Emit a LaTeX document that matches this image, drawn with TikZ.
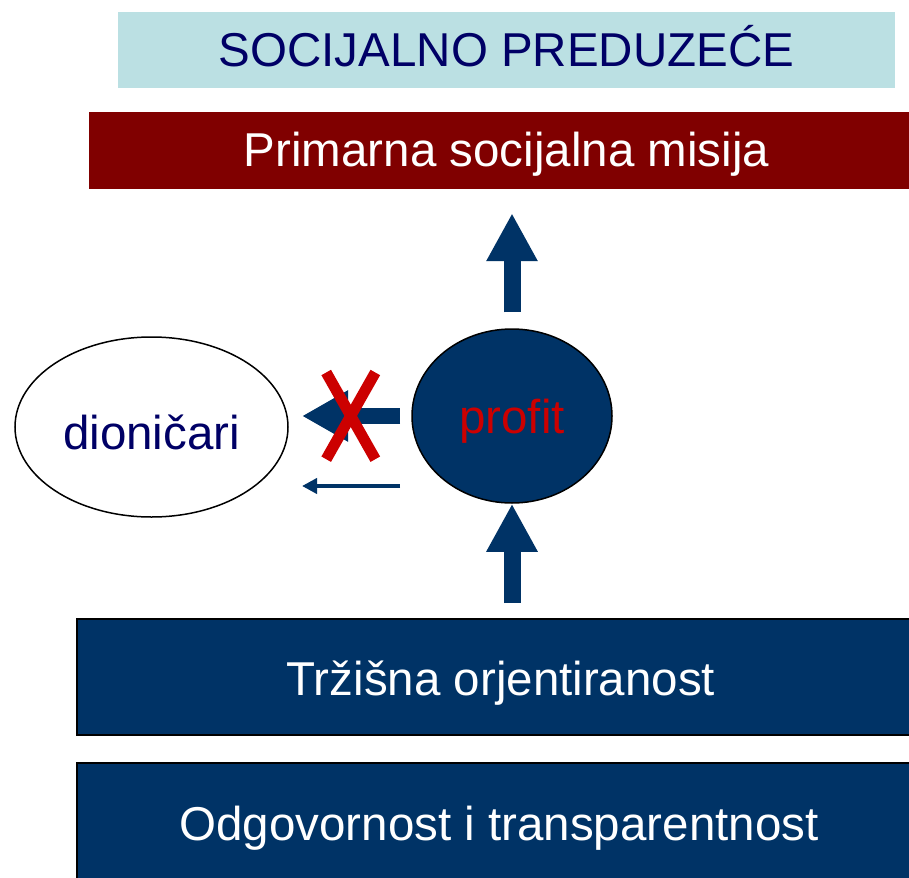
\documentclass[tikz,border=0pt]{standalone}
\usepackage{fontspec}
\setmainfont{Liberation Sans}
\usetikzlibrary{shapes.geometric,arrows.meta,calc}
\definecolor{cyanbox}{RGB}{187,224,227}
\definecolor{navytext}{RGB}{0,0,102}
\definecolor{maroonbox}{RGB}{128,0,0}
\definecolor{darkblue}{RGB}{0,51,102}
\definecolor{xred}{RGB}{204,0,0}
\tikzset{
  bigfont/.style={font=\fontsize{47.5pt}{57pt}\selectfont},
  boxnode/.style={rectangle, inner sep=0pt, bigfont, text depth=0pt},
  ovalnode/.style={ellipse, inner sep=0pt, bigfont, text depth=0pt, draw=black, line width=1.5pt},
  uparrow/.style={darkblue, line width=17pt, -{Triangle[length=48pt,width=48pt]}},
  leftbig/.style={darkblue, line width=16pt, -{Triangle[length=46pt,width=48pt]}},
  leftsmall/.style={darkblue, line width=4pt, -{Triangle[length=15pt,width=15pt]}},
  xstroke/.style={draw=xred, line width=11pt, line cap=butt}
}
\begin{document}
\begin{tikzpicture}[x=1pt,y=-1pt]
\clip (0,0) rectangle (909,877);
\fill[white] (0,0) rectangle (909,877);

\node[boxnode, fill=cyanbox, text=navytext, minimum width=777pt, minimum height=76pt, text height=34pt] (title) at (506.5,50) {SOCIJALNO PREDUZEĆE};
\node[boxnode, fill=maroonbox, text=white, minimum width=835pt, minimum height=77pt, text height=33pt] (mission) at (506.5,150.5) {Primarna socijalna misija};

\node[ovalnode, fill=darkblue, text=xred, minimum width=200pt, minimum height=174pt, text height=34pt] (profit) at (512,416) {profit};
\node[ovalnode, fill=white, text=navytext, minimum width=273pt, minimum height=180pt, text height=44pt] (dion) at (151.5,427) {dioničari};

\node[boxnode, fill=darkblue, draw=black, line width=2pt, text=white, minimum width=848pt, minimum height=116pt, text height=36pt] (market) at (501,677) {Tržišna orjentiranost};
\node[boxnode, fill=darkblue, draw=black, line width=2pt, text=white, minimum width=844pt, minimum height=116pt, text height=38pt] (resp) at (499,821) {Odgovornost i transparentnost};

\draw[uparrow] ($(profit.north)+(0,-16)$) -- ($(profit.north |- mission.south)+(0,24)$);
\draw[uparrow] ($(profit.south |- market.north)+(0,-15)$) -- (profit.south);

\coordinate (ba1) at (400,416);
\coordinate (ba2) at (302,416);
\coordinate (sa1) at (400,486);
\coordinate (sa2) at (302,486);
\draw[leftbig] (ba1) -- (ba2);
\draw[leftsmall] (sa1) -- (sa2);

\coordinate (x1) at (326.2,372.5);
\coordinate (x2) at (375.3,459.2);
\coordinate (x3) at (375.3,372.5);
\coordinate (x4) at (326.2,459.2);
\draw[xstroke] (x1) -- (x2);
\draw[xstroke] (x3) -- (x4);
\end{tikzpicture}
\end{document}
